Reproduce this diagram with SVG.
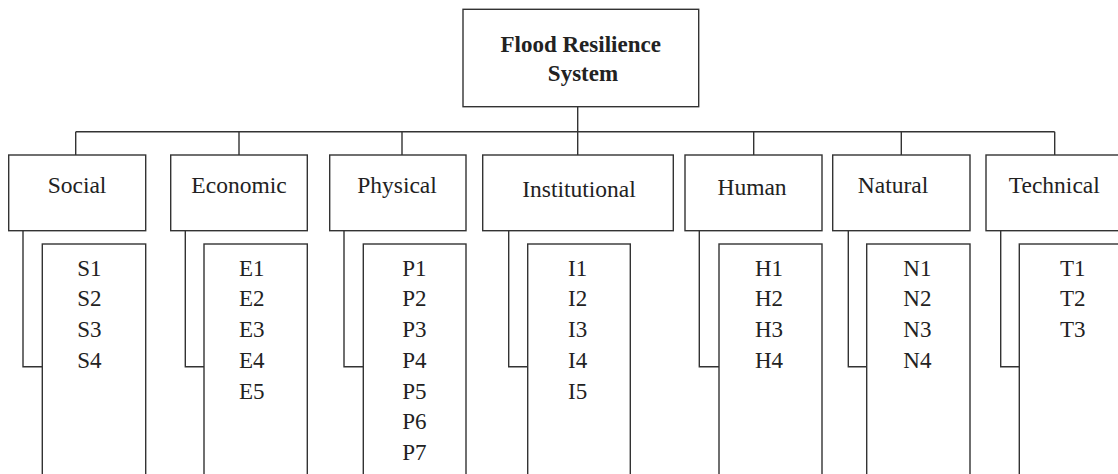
<svg xmlns="http://www.w3.org/2000/svg" width="1118" height="474" viewBox="0 0 1118 474">
<style>
.b{fill:#fff;stroke:#333;stroke-width:1.4}
.c{fill:none;stroke:#333;stroke-width:1.4}
text{font-family:'Liberation Serif','Times New Roman',Times,serif;fill:#222}
.t{font-size:23.5px;text-anchor:middle}
.tb{font-size:23px;font-weight:bold;text-anchor:middle}
.i{font-size:23px}
</style>
<rect width="1118" height="474" fill="#fff"/>
<g id="connectors">
<path class="c" d="M577.7,106.7V155 M75.7,131.7H1054.7 M75.7,131.7V155 M239,131.7V155 M402,131.7V155 M753.7,131.7V155 M901.3,131.7V155 M1054.7,131.7V155"/>
<path class="c" d="M23,230.7V366.7H42.3 M185.3,230.7V366.7H204 M344,230.7V366.7H363.3 M508.7,230.7V366.7H527.7 M699.3,230.7V366.7H719 M848.3,230.7V366.7H866.7 M1000.7,230.7V366.7H1019.3"/>
</g>
<g id="root">
<rect class="b" x="463" y="9.3" width="235.7" height="97.4"/>
<text class="tb" x="580.7" y="51.7" font-family="Liberation Serif, serif">Flood Resilience</text>
<text class="tb" x="583" y="81" font-family="Liberation Serif, serif">System</text>
</g>
<g id="social">
<rect class="b" x="8.7" y="155" width="137" height="75.7"/>
<text class="t" x="77" y="193">Social</text>
<rect class="b" x="42.3" y="244" width="103.4" height="240"/>
<text class="i"><tspan x="77.3" y="275.7">S1</tspan><tspan x="77.3" y="306.4">S2</tspan><tspan x="77.3" y="337.1">S3</tspan><tspan x="77.3" y="367.8">S4</tspan></text>
</g>
<g id="economic">
<rect class="b" x="170.7" y="155" width="136.6" height="75.7"/>
<text class="t" x="239" y="193">Economic</text>
<rect class="b" x="204" y="244" width="103.3" height="240"/>
<text class="i"><tspan x="239" y="275.7">E1</tspan><tspan x="239" y="306.4">E2</tspan><tspan x="239" y="337.1">E3</tspan><tspan x="239" y="367.8">E4</tspan><tspan x="239" y="398.5">E5</tspan></text>
</g>
<g id="physical">
<rect class="b" x="329.7" y="155" width="136.3" height="75.7"/>
<text class="t" x="397" y="193">Physical</text>
<rect class="b" x="363.3" y="244" width="102.7" height="240"/>
<text class="i"><tspan x="402.3" y="275.7">P1</tspan><tspan x="402.3" y="306.4">P2</tspan><tspan x="402.3" y="337.1">P3</tspan><tspan x="402.3" y="367.8">P4</tspan><tspan x="402.3" y="398.5">P5</tspan><tspan x="402.3" y="429.2">P6</tspan><tspan x="402.3" y="459.9">P7</tspan></text>
</g>
<g id="institutional">
<rect class="b" x="482.7" y="155" width="190.6" height="75.7"/>
<text class="t" x="579" y="196.7">Institutional</text>
<rect class="b" x="527.7" y="244" width="102.6" height="240"/>
<text class="i"><tspan x="568" y="275.7">I1</tspan><tspan x="568" y="306.4">I2</tspan><tspan x="568" y="337.1">I3</tspan><tspan x="568" y="367.8">I4</tspan><tspan x="568" y="398.5">I5</tspan></text>
</g>
<g id="human">
<rect class="b" x="685" y="155" width="137" height="75.7"/>
<text class="t" x="752" y="195">Human</text>
<rect class="b" x="719" y="244" width="103" height="240"/>
<text class="i"><tspan x="755" y="275.7">H1</tspan><tspan x="755" y="306.4">H2</tspan><tspan x="755" y="337.1">H3</tspan><tspan x="755" y="367.8">H4</tspan></text>
</g>
<g id="natural">
<rect class="b" x="832.7" y="155" width="137.3" height="75.7"/>
<text class="t" x="893" y="193">Natural</text>
<rect class="b" x="866.7" y="244" width="103.3" height="240"/>
<text class="i"><tspan x="903.3" y="275.7">N1</tspan><tspan x="903.3" y="306.4">N2</tspan><tspan x="903.3" y="337.1">N3</tspan><tspan x="903.3" y="367.8">N4</tspan></text>
</g>
<g id="technical">
<rect class="b" x="986" y="155" width="137" height="75.7"/>
<text class="t" x="1054.3" y="193">Technical</text>
<rect class="b" x="1019.3" y="244" width="103.7" height="240"/>
<text class="i"><tspan x="1060" y="275.7">T1</tspan><tspan x="1060" y="306.4">T2</tspan><tspan x="1060" y="337.1">T3</tspan></text>
</g>
</svg>
